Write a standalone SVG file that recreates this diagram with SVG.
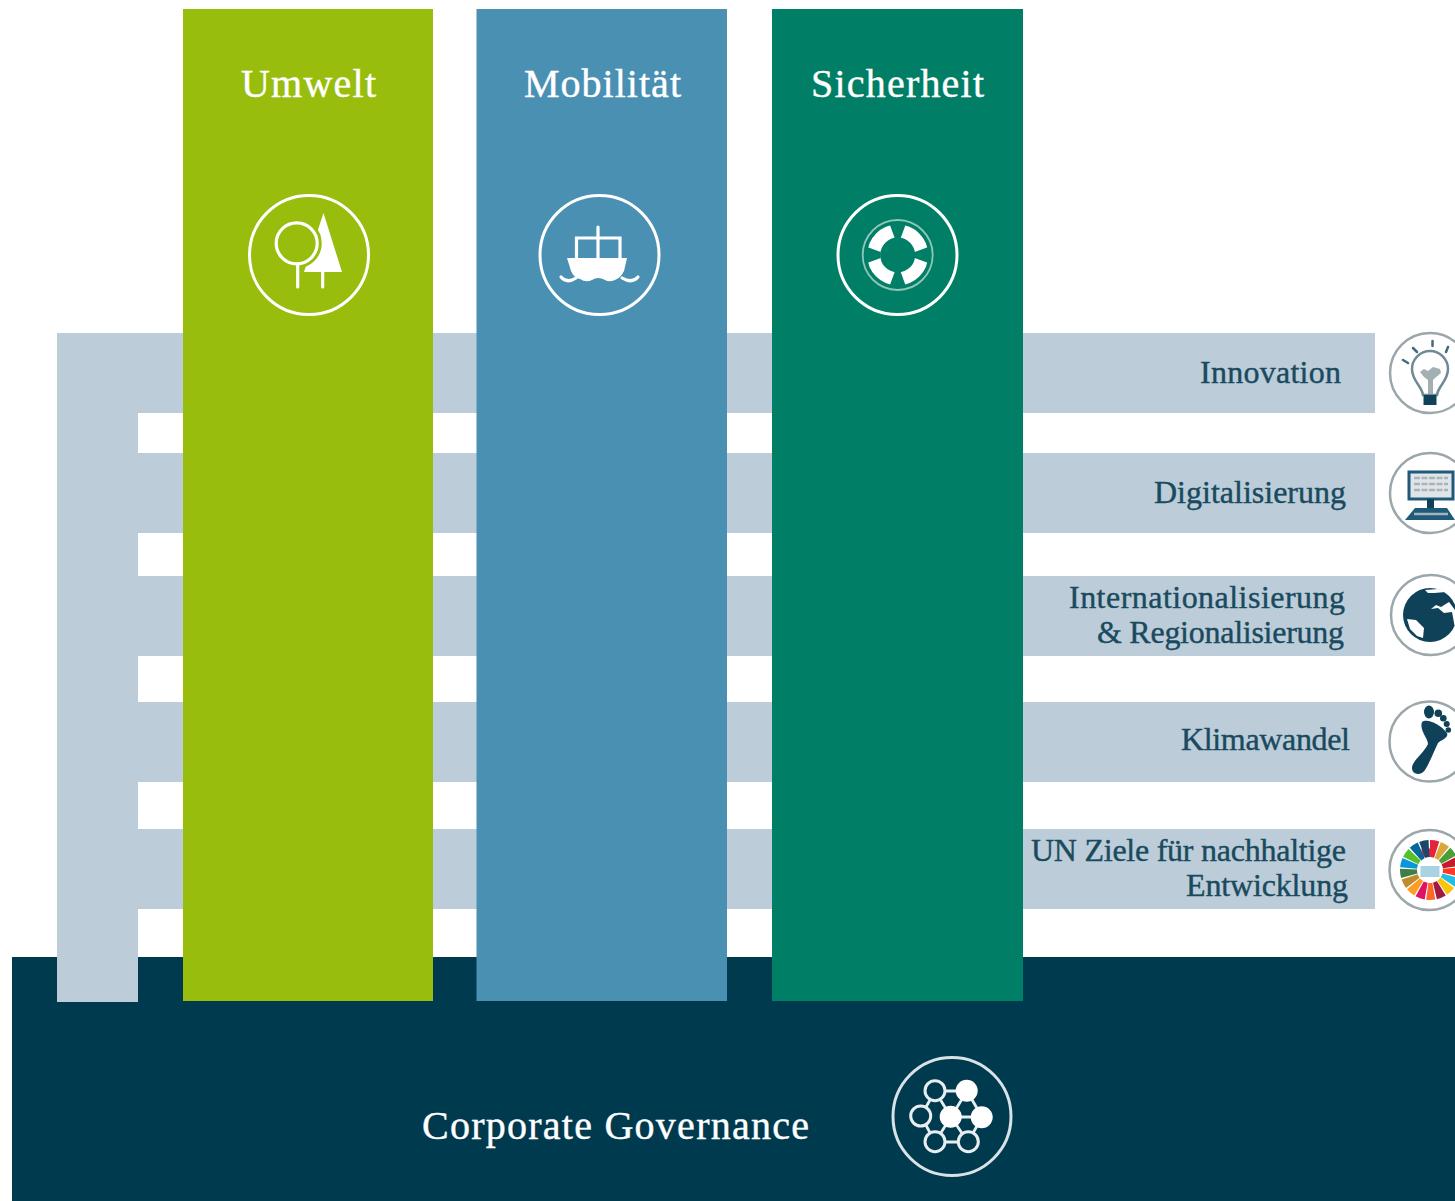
<svg xmlns="http://www.w3.org/2000/svg" width="1455" height="1201" viewBox="0 0 1455 1201">
<style>
text{font-family:"Liberation Serif","Times New Roman",serif}
.t{font-size:40px;fill:#fff;stroke:#fff;stroke-width:.4}
.l{font-size:32px;fill:#1a4a5e;stroke:#1a4a5e;stroke-width:.4}
.band{fill:#bccdd9}
.ring{fill:none;stroke:#fff;stroke-width:3}
.wl{fill:none;stroke:#fff;stroke-width:3.2;stroke-linecap:round}
.wf{fill:#fff}
.side{fill:#fff;stroke:#9ba7ab;stroke-width:2.5}
.dk{fill:#0f4258}
.seg{fill:none;stroke-width:17;stroke-dasharray:.86 16.14}
.net{fill:#003a4f;stroke:#e8eef0;stroke-width:3}
.gap{fill:#007e66}
</style>
<rect width="1455" height="1201" fill="#fff"/>
<g id="bands">
<rect class="band" x="57" y="333" width="81" height="669"/>
<rect class="band" x="57" y="333" width="1318" height="80"/>
<rect class="band" x="57" y="453" width="1318" height="80"/>
<rect class="band" x="57" y="576" width="1318" height="80"/>
<rect class="band" x="57" y="702" width="1318" height="80"/>
<rect class="band" x="57" y="829" width="1318" height="80"/>
</g>
<g id="governance">
<path d="M12 957H57V1002H138V957H1455V1201H12Z" fill="#003a4f"/>
<text class="t" x="422" y="1139" textLength="387" lengthAdjust="spacing">Corporate Governance</text>
<circle class="ring" cx="952" cy="1116.5" r="59" style="stroke:#d9e3e6"/>
<g stroke="#e8eef0" stroke-width="2.8" fill="none">
<path d="M935 1091H967M935 1091L921 1116M935 1091L951 1117M967 1091L951 1117M967 1091L982 1117M921 1116L935 1142M951 1117H982M951 1117L935 1142M951 1117L968 1142M982 1117L968 1142M935 1142H968"/>
</g>
<circle class="net" cx="935" cy="1090.7" r="10"/>
<circle class="net" cx="920.7" cy="1116" r="10"/>
<circle class="net" cx="935" cy="1141.7" r="10"/>
<circle class="net" cx="968.3" cy="1141.7" r="10"/>
<circle class="wf" cx="966.7" cy="1090.7" r="11"/>
<circle class="wf" cx="950.7" cy="1116.7" r="11"/>
<circle class="wf" cx="981.7" cy="1117.3" r="11"/>
</g>
<g id="umwelt">
<rect x="183" y="9" width="250" height="992" fill="#98bd0d"/>
<text class="t" x="241" y="97" textLength="135" lengthAdjust="spacing">Umwelt</text>
<circle class="ring" cx="309" cy="255" r="59.5"/>
<path class="wf" d="M323.500 213L342 272H304Z"/>
<circle cx="296.700" cy="243.300" r="22" fill="#98bd0d" stroke="#98bd0d" stroke-width="6"/>
<circle cx="296.700" cy="243.300" r="20.500" fill="#98bd0d" stroke="#fff" stroke-width="3.200"/>
<path class="wl" d="M297.700 265V287M322.700 272V287"/>
</g>
<g id="mobilitaet">
<rect x="476.500" y="9" width="250.500" height="992" fill="#4990b3"/>
<text class="t" x="524" y="97" textLength="157" lengthAdjust="spacing">Mobilität</text>
<circle class="ring" cx="599.500" cy="255" r="59.500"/>
<path class="wl" d="M576.500 258V238H620V258M598 227V258"/>
<path class="wf" d="M567 258H627L624 271Q621 277 617 279Q610 283 605 280Q598 276 592 280Q586 283 580 279Q574 278 571 271Z"/>
<path class="wl" d="M561 277Q567 284 576 278M638 277Q632 284 622 278"/>
</g>
<g id="sicherheit">
<rect x="772" y="9" width="251" height="992" fill="#007e66"/>
<text class="t" x="811" y="97" textLength="173" lengthAdjust="spacing">Sicherheit</text>
<circle class="ring" cx="897.500" cy="255" r="59.500"/>
<circle cx="897.700" cy="255" r="35" fill="none" stroke="#8cc7b8" stroke-width="1.800"/>
<circle cx="897.700" cy="255" r="24" fill="none" stroke="#fff" stroke-width="13"/>
<g transform="translate(897.700 255)">
<path class="gap" d="M-8.500-32H8.500L3-17H-3Z"/>
<path class="gap" d="M-8.500-32H8.500L3-17H-3Z" transform="rotate(90)"/>
<path class="gap" d="M-8.500-32H8.500L3-17H-3Z" transform="rotate(180)"/>
<path class="gap" d="M-8.500-32H8.500L3-17H-3Z" transform="rotate(270)"/>
</g>
</g>
<g id="innovation">
<text class="l" x="1200" y="383" textLength="141" lengthAdjust="spacing">Innovation</text>
<circle class="side" cx="1430" cy="373" r="40"/>
<path d="M1423 395C1422 386 1412 381 1412 369A18 18 0 0 1 1448 369C1448 381 1438 386 1437 395Z" fill="#fff" stroke="#6f8a94" stroke-width="2.500"/>
<path d="M1423.500 395H1436.500V405H1423.500Z" class="dk"/>
<path d="M1420 372L1424 369L1428 371L1433 367L1440 369L1441 373L1435 378L1433 380V394H1428V380L1424 377Z" fill="#a3afb3"/>
<path d="M1403 360L1408 363M1413 348L1417 352M1432.500 341V346M1448 347L1446 352" stroke="#456b7a" stroke-width="2.500" stroke-linecap="round" fill="none"/>
</g>
<g id="digitalisierung">
<text class="l" x="1154" y="503" textLength="192" lengthAdjust="spacing">Digitalisierung</text>
<circle class="side" cx="1430" cy="493" r="40"/>
<rect x="1409" y="472" width="44" height="27" fill="#dfe5e8" stroke="#1f5a78" stroke-width="3"/>
<path d="M1414 478H1448M1414 484H1448M1414 490H1448" stroke="#aab5ba" stroke-width="2.500" stroke-dasharray="6 1.500"/>
<rect x="1427" y="499" width="7" height="9" class="dk"/>
<path d="M1415 508H1447L1455 520H1405Z" fill="#1f5a78"/>
<path d="M1414 514H1448" stroke="#9fb4bd" stroke-width="2.500"/>
</g>
<g id="international">
<text class="l" x="1069" y="608" textLength="276" lengthAdjust="spacing">Internationalisierung</text>
<text class="l" x="1097" y="643" textLength="247" lengthAdjust="spacing">&amp; Regionalisierung</text>
<circle class="side" cx="1431" cy="615" r="40"/>
<circle class="dk" cx="1430" cy="615" r="27"/>
<path class="wf" d="M1407 619L1416 620L1424 628L1423 638L1417 636L1410 629Z M1425 590L1438 589L1446 592L1434 593L1428 593Z M1431 609L1436 605L1441 607L1449 602L1455 610V628L1452 612L1444 613L1438 608Z"/>
</g>
<g id="klima">
<text class="l" x="1181" y="750" textLength="169" lengthAdjust="spacing">Klimawandel</text>
<circle class="side" cx="1429.500" cy="741.500" r="40"/>
<path class="dk" d="M1422 722C1427 718 1440 724 1447 733C1449 738 1441 740 1438 743C1434 751 1430 762 1425 770C1421 776 1412 775 1412 768C1412 761 1424 753 1428 744C1428 738 1419 730 1422 722Z"/>
<ellipse class="dk" cx="1429" cy="712" rx="5" ry="6.500"/>
<circle class="dk" cx="1438.300" cy="713.300" r="3.800"/>
<circle class="dk" cx="1443.300" cy="718.300" r="3.300"/>
<circle class="dk" cx="1446.700" cy="724" r="3"/>
<circle class="dk" cx="1448.300" cy="730" r="2.800"/>
</g>
<g id="un-ziele">
<text class="l" x="1031" y="861" textLength="315" lengthAdjust="spacing">UN Ziele für nachhaltige</text>
<text class="l" x="1186" y="896" textLength="162" lengthAdjust="spacing">Entwicklung</text>
<circle class="side" cx="1429.500" cy="870" r="40"/>
<g transform="rotate(-90 1430 870)">
<circle class="seg" cx="1430" cy="870" r="21.500" pathLength="17" stroke="#e5243b"/>
<circle class="seg" cx="1430" cy="870" r="21.500" pathLength="17" stroke-dashoffset="-1" stroke="#dda63a"/>
<circle class="seg" cx="1430" cy="870" r="21.500" pathLength="17" stroke-dashoffset="-2" stroke="#4c9f38"/>
<circle class="seg" cx="1430" cy="870" r="21.500" pathLength="17" stroke-dashoffset="-3" stroke="#c5192d"/>
<circle class="seg" cx="1430" cy="870" r="21.500" pathLength="17" stroke-dashoffset="-4" stroke="#ff3a21"/>
<circle class="seg" cx="1430" cy="870" r="21.500" pathLength="17" stroke-dashoffset="-5" stroke="#26bde2"/>
<circle class="seg" cx="1430" cy="870" r="21.500" pathLength="17" stroke-dashoffset="-6" stroke="#fcc30b"/>
<circle class="seg" cx="1430" cy="870" r="21.500" pathLength="17" stroke-dashoffset="-7" stroke="#a21942"/>
<circle class="seg" cx="1430" cy="870" r="21.500" pathLength="17" stroke-dashoffset="-8" stroke="#fd6925"/>
<circle class="seg" cx="1430" cy="870" r="21.500" pathLength="17" stroke-dashoffset="-9" stroke="#dd1367"/>
<circle class="seg" cx="1430" cy="870" r="21.500" pathLength="17" stroke-dashoffset="-10" stroke="#fd9d24"/>
<circle class="seg" cx="1430" cy="870" r="21.500" pathLength="17" stroke-dashoffset="-11" stroke="#bf8b2e"/>
<circle class="seg" cx="1430" cy="870" r="21.500" pathLength="17" stroke-dashoffset="-12" stroke="#3f7e44"/>
<circle class="seg" cx="1430" cy="870" r="21.500" pathLength="17" stroke-dashoffset="-13" stroke="#0a97d9"/>
<circle class="seg" cx="1430" cy="870" r="21.500" pathLength="17" stroke-dashoffset="-14" stroke="#56c02b"/>
<circle class="seg" cx="1430" cy="870" r="21.500" pathLength="17" stroke-dashoffset="-15" stroke="#00689d"/>
<circle class="seg" cx="1430" cy="870" r="21.500" pathLength="17" stroke-dashoffset="-16" stroke="#19486a"/>
</g>
<rect x="1420.500" y="866" width="19" height="11" fill="#a9d3e0"/>
</g>
<g id="connectors"/>
</svg>
